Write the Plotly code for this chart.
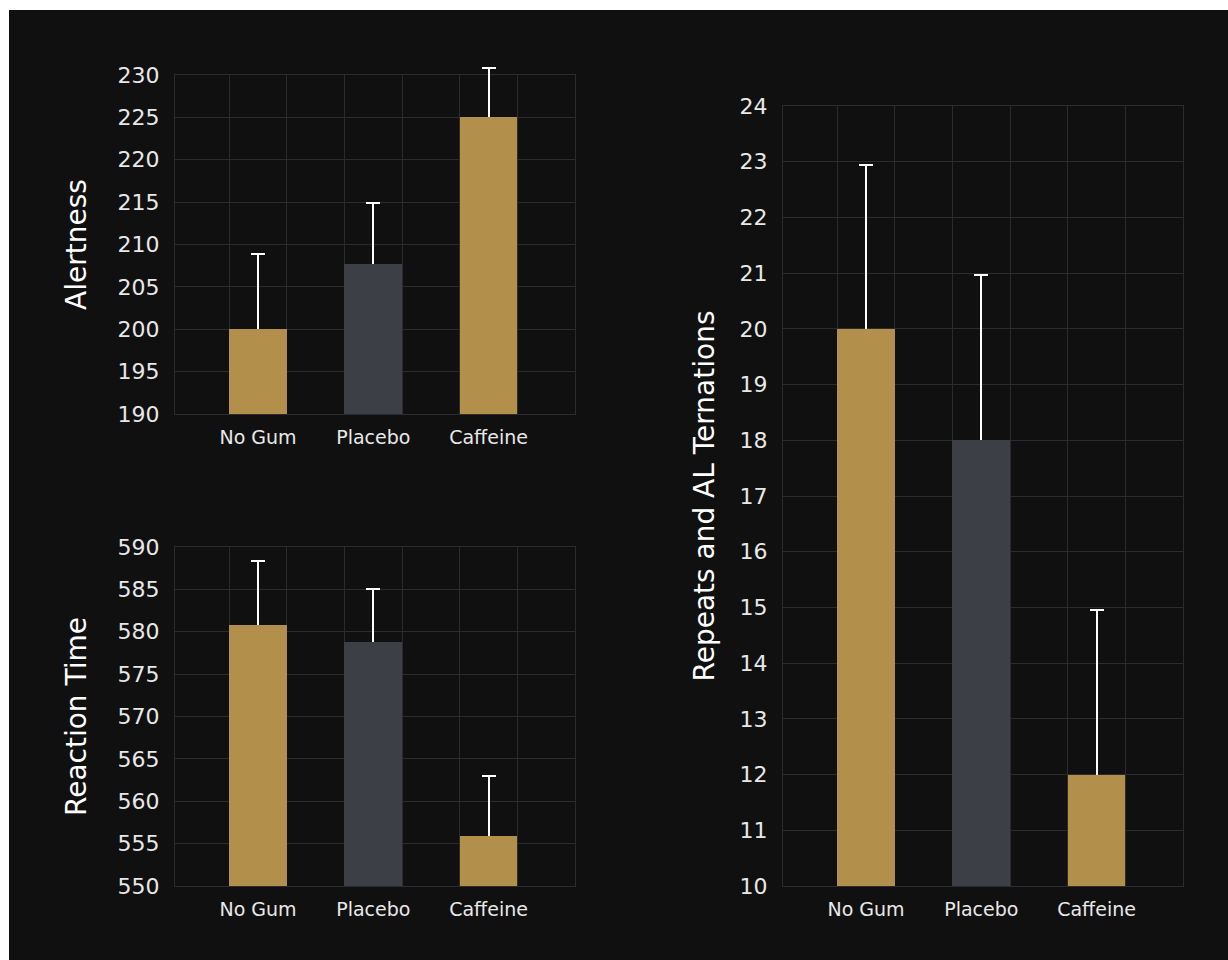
import plotly.graph_objects as go

categories = ["No Gum", "Placebo", "Caffeine"]
alertness = [200.0, 207.7, 225.0]
alertness_err = [8.9, 7.2, 5.8]
reaction = [580.8, 578.8, 555.9]
reaction_err = [7.6, 6.2, 7.1]
repeats = [20.0, 18.0, 12.0]
repeats_err = [2.95, 2.97, 2.95]

GOLD = "#B38F4C"
GRAY = "#3D3F47"
BG = "#111011"
GRID = "#2B2B30"
FONT = "DejaVu Sans"
W, H = 1228, 960
HEADROOM = 20  # px above each frame where error bars may still be drawn

bar_colors = [GOLD, GRAY, GOLD]
xpos = [2 * i + 1.5 for i in range(len(categories))]
XRANGE = [0.06, 7]

# (title, values, errors, y range, dtick, frame left, right, top, bottom in px)
panels = [
    ("Alertness", alertness, alertness_err, [190, 230], 5, 175, 575, 75, 414),
    ("Reaction Time", reaction, reaction_err, [550, 590], 5, 175, 575, 547, 886),
    ("Repeats and AL Ternations", repeats, repeats_err, [10, 24], 1, 783, 1183, 106, 886),
]
title_standoff = [22, 22, 16]

xcommon = dict(
    range=XRANGE, tickmode="array", tickvals=xpos, ticktext=categories,
    showgrid=False, zeroline=False, showline=True, mirror=True,
    linecolor=GRID, linewidth=1, automargin=False,
    tickfont=dict(family=FONT, size=19, color="#E8E8E8"),
    ticks="", ticklabelstandoff=6,
    minor=dict(tickmode="linear", tick0=0, dtick=1, showgrid=True,
               gridcolor=GRID, gridwidth=1, ticks=""),
)
ycommon = dict(
    showgrid=True, gridcolor=GRID, gridwidth=1, zeroline=False,
    showline=True, mirror=True, linecolor=GRID, linewidth=1, automargin=False,
    tickfont=dict(family=FONT, size=22, color="#E8E8E8"),
    ticks="", ticklabelstandoff=10,
)
title_font = dict(family=FONT, size=28, color="white")

fig = go.Figure()
layout = {}
n = len(panels)

# frame subplots first (grid, ticks, titles), drawn underneath
for i, (title, vals, errs, yr, dt, left, right, top, bottom) in enumerate(panels):
    fx, fy = f"x{i + 1}", f"y{i + 1}"
    layout[f"xaxis{i + 1}"] = dict(domain=[left / W, right / W], anchor=fy, **xcommon)
    layout[f"yaxis{i + 1}"] = dict(
        domain=[1 - bottom / H, 1 - top / H], anchor=fx, range=yr, dtick=dt,
        title=dict(text=title, font=title_font, standoff=title_standoff[i]),
        **ycommon)
    fig.add_trace(go.Scatter(x=[], y=[], xaxis=fx, yaxis=fy,
                             showlegend=False, hoverinfo="skip"))

# data subplots: same scale, taller domain so error bars can rise above the frame
for i, (title, vals, errs, yr, dt, left, right, top, bottom) in enumerate(panels):
    dx, dy = f"x{i + 1 + n}", f"y{i + 1 + n}"
    ytop = yr[0] + (yr[1] - yr[0]) * (bottom - (top - HEADROOM)) / (bottom - top)
    layout[f"xaxis{i + 1 + n}"] = dict(domain=[left / W, right / W], anchor=dy,
                                       range=XRANGE, visible=False)
    layout[f"yaxis{i + 1 + n}"] = dict(
        domain=[1 - bottom / H, 1 - (top - HEADROOM) / H], anchor=dx,
        range=[yr[0], ytop], visible=False)

    # bars carrying symmetric error bars; lower half hidden by the bars drawn on top
    fig.add_trace(go.Bar(
        x=xpos, y=vals, width=1,
        marker=dict(color=bar_colors, line=dict(width=0)),
        error_y=dict(type="data", array=errs, symmetric=True,
                     color="white", thickness=2, width=7),
        hoverinfo="skip", xaxis=dx, yaxis=dy, showlegend=False,
    ))
    fig.add_trace(go.Bar(
        x=xpos, y=vals, width=1, customdata=categories,
        marker=dict(color=bar_colors, line=dict(width=0)),
        hovertemplate="%{customdata}: %{y}<extra></extra>",
        xaxis=dx, yaxis=dy, showlegend=False,
    ))

layout["xaxis"] = layout.pop("xaxis1")
layout["yaxis"] = layout.pop("yaxis1")

fig.update_layout(
    width=W, height=H,
    margin=dict(l=0, r=0, t=0, b=0, autoexpand=False),
    paper_bgcolor=BG, plot_bgcolor="rgba(0,0,0,0)",
    barmode="overlay", bargap=0,
    shapes=[
        dict(type="rect", xref="paper", yref="paper", x0=0, x1=9 / W, y0=0, y1=1,
             fillcolor="white", line=dict(width=0), layer="above"),
        dict(type="rect", xref="paper", yref="paper", x0=0, x1=1, y0=1 - 10 / H, y1=1,
             fillcolor="white", line=dict(width=0), layer="above"),
    ],
    **layout,
)

fig.write_html("out.html")
